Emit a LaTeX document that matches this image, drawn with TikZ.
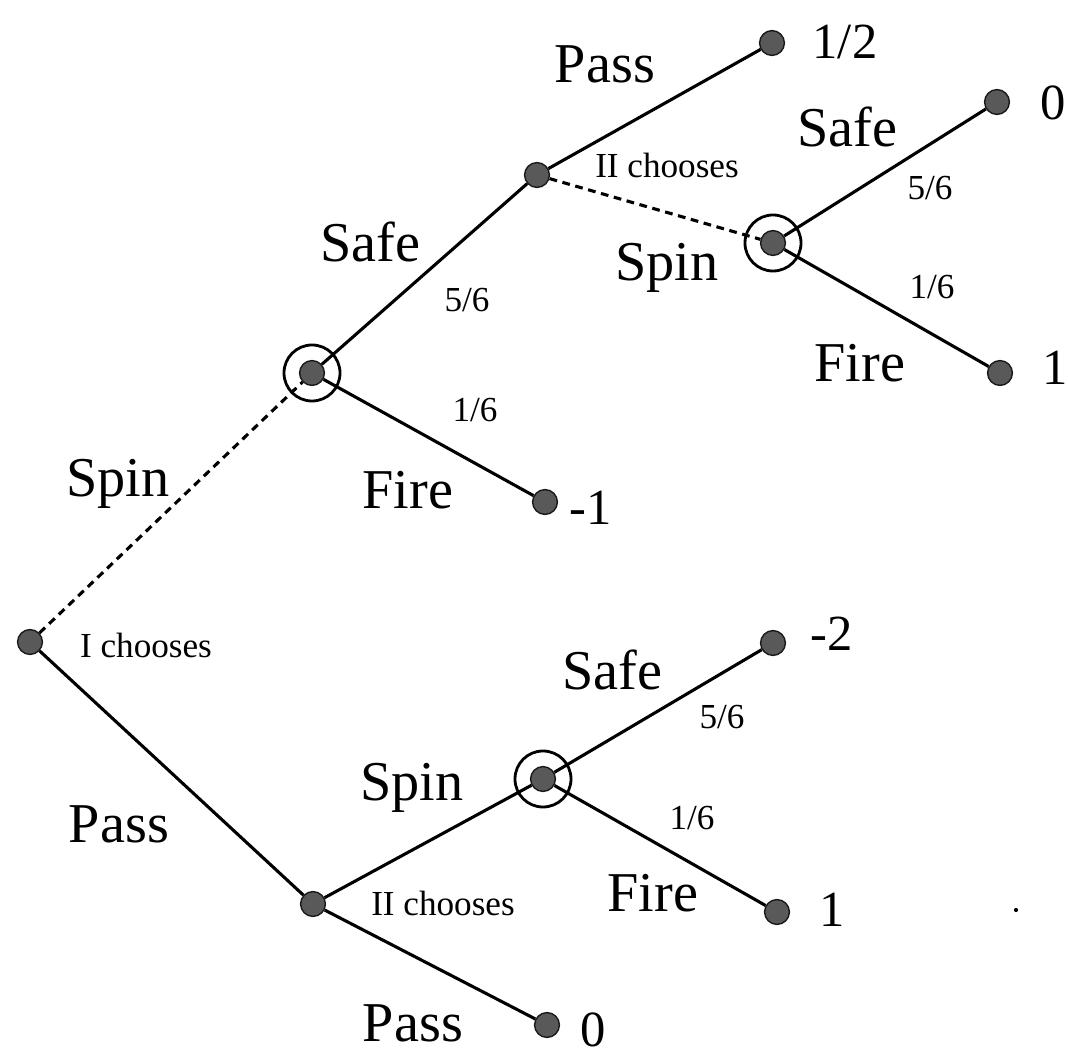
\documentclass[tikz,border=0pt]{standalone}
\usepackage{fontspec}
\setmainfont{Liberation Serif}

\begin{document}
\begin{tikzpicture}[x=0.025cm, y=-0.025cm,
    dot/.style={circle, fill=black!65, draw=black!90, line width=1pt, minimum size=0.62cm, inner sep=0pt},
    ring/.style={circle, draw, line width=2pt, minimum size=1.4cm, inner sep=0pt},
    move/.style={line width=2.2pt},
    guess/.style={line width=2.2pt, dash pattern=on 5.5pt off 4pt},
    big/.style={font=\fontsize{40}{44}\selectfont, inner sep=0pt},
    pay/.style={font=\fontsize{36}{40}\selectfont, inner sep=0pt},
    small/.style={font=\fontsize{25}{28}\selectfont, inner sep=0pt}]
        \useasboundingbox (0,0) rectangle (1068,1056);

        % Choice points and chance points
        \node[dot] (root) at (30,642) {};
        \node[dot] (chA) at (312,373) {};
        \node[dot] (twoTop) at (537,175) {};
        \node[dot] (chB) at (773,243) {};
        \node[dot] (chC) at (543,779) {};
        \node[dot] (twoBot) at (313,904) {};

        % Rings round the chance points
        \node[ring] (ringA) at (chA) {};
        \node[ring] (ringB) at (chB) {};
        \node[ring] (ringC) at (chC) {};

        % End points
        \node[dot] (endHalf) at (772,43) {};
        \node[dot] (endZeroTop) at (997,102) {};
        \node[dot] (endOneTop) at (1000,373) {};
        \node[dot] (endMinusOne) at (545,502) {};
        \node[dot] (endMinusTwo) at (773,643) {};
        \node[dot] (endOneBot) at (777,912) {};
        \node[dot] (endZeroBot) at (547,1025) {};

        % Moves
        \draw[guess] (root) -- (chA);
        \draw[move] (root) -- (twoBot);
        \draw[move] (chA) -- (twoTop);
        \draw[move] (chA) -- (endMinusOne);
        \draw[move] (twoTop) -- (endHalf);
        \draw[guess] (twoTop) -- (chB);
        \draw[move] (chB) -- (endZeroTop);
        \draw[move] (chB) -- (endOneTop);
        \draw[move] (twoBot) -- (chC);
        \draw[move] (twoBot) -- (endZeroBot);
        \draw[move] (chC) -- (endMinusTwo);
        \draw[move] (chC) -- (endOneBot);

        % Move names
        \node[big] (lPassTop) at (605,64) {Pass};
        \node[big] (lSafeB) at (847,127) {Safe};
        \node[big] (lSpinB) at (667,268) {Spin};
        \node[big] (lFireB) at (860,363) {Fire};
        \node[big] (lSafeA) at (370,242) {Safe};
        \node[big] (lFireA) at (408,490) {Fire};
        \node[big] (lSpinI) at (118,484) {Spin};
        \node[big] (lPassI) at (119,824) {Pass};
        \node[big] (lSafeC) at (612,670) {Safe};
        \node[big] (lSpinC) at (412,788) {Spin};
        \node[big] (lFireC) at (653,893) {Fire};
        \node[big] (lPassBot) at (413,1023) {Pass};

        % Who chooses
        \node[small] (lTwoTop) at (667,165) {II chooses};
        \node[small] (lOne) at (146,645) {I chooses};
        \node[small] (lTwoBot) at (443,903) {II chooses};

        % Odds
        \node[small] (pSafeB) at (930,188) {5/6};
        \node[small] (pFireB) at (932,287) {1/6};
        \node[small] (pSafeA) at (467,300) {5/6};
        \node[small] (pFireA) at (475,410) {1/6};
        \node[small] (pSafeC) at (722,717) {5/6};
        \node[small] (pFireC) at (692,818) {1/6};

        % Pay-offs
        \node[pay] (vHalf) at (845,42) {1/2};
        \node[pay] (vZeroTop) at (1053,103) {0};
        \node[pay] (vOneTop) at (1055,368) {1};
        \node[pay] (vMinusOne) at (591,508) {-1};
        \node[pay] (vMinusTwo) at (832,634) {-2};
        \node[pay] (vOneBot) at (832,910) {1};
        \node[pay] (vZeroBot) at (593,1030) {0};

        % speck
        \fill (1016,910) circle (1.5pt);
\end{tikzpicture}
\end{document}
